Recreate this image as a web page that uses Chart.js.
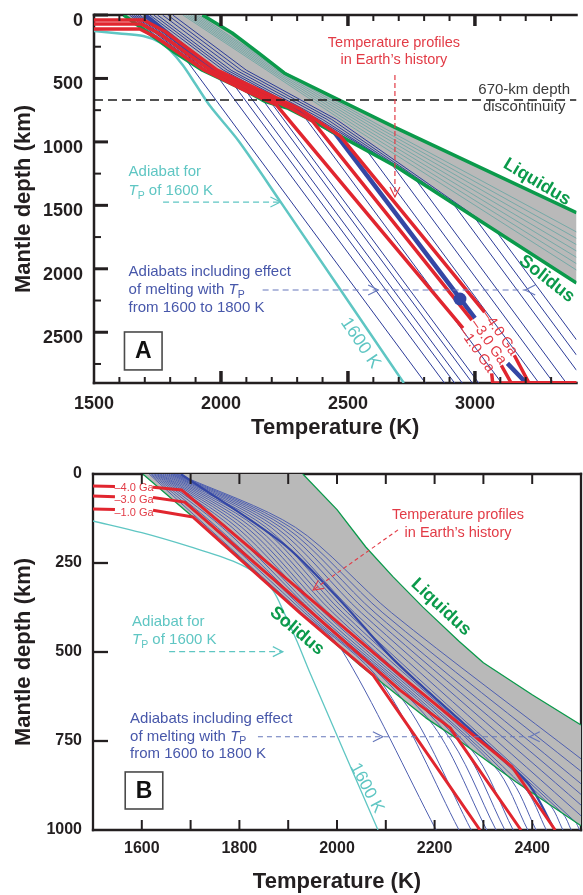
<!DOCTYPE html>
<html>
<head>
<meta charset="utf-8">
<title>Mantle temperature profiles</title>
<script src="https://cdn.jsdelivr.net/npm/chart.js@4.4.1/dist/chart.umd.min.js"></script>
<style>
  html, body { margin:0; padding:0; background:#ffffff; width:583px; height:895px; overflow:hidden; }
  canvas { position:absolute; left:0; display:block; }
</style>
</head>
<body>
<canvas id="cA" width="583" height="445" style="top:0;width:583px;height:445px"></canvas>
<canvas id="cB" width="583" height="450" style="top:445px;width:583px;height:450px"></canvas>
<script>
// ================= PANEL A data (temperature K, depth km) =================
const xTicksA = [1500, 2000, 2500, 3000];
const yTicksA = [0, 500, 1000, 1500, 2000, 2500];
const xMajorTickA = [2000, 2500, 3000];
const xMinorTickA = [1600, 1700, 1800, 1900, 2100, 2200, 2300, 2400, 2600, 2700, 2800, 2900, 3100, 3200, 3300];
const yMajorTickA = [0, 500, 1000, 1500, 2000, 2500];
const yMinorTickA = [250, 750, 1250, 1750, 2250, 2750];

const liquidusA = [[1927,0],[2044,142],[2149,300],[2250,459],[2689,890],[3400,1558]];
const solidusA = [[1617,0],[1700,120],[1811,285],[1927,435],[2094,593],[2172,680],[2265,736],[2350,823],[2689,1194],[3400,2112]];
const adiabat1600A = [[1500,127],[1600,145],[1694,166],[1760,215],[1799,277],[1850,396],[1900,546],[1958,720],[2071,997],[2234,1471],[2720,2900]];
const discontinuityDepth = 670;

const meltAdiabatsA = [
  [[1640,0],[1862,351],[2805,2900]],
  [[1648,0],[1934,435],[1990,495],[2880,2900]],
  [[1656,0],[1942,435],[2052,553],[2920,2900]],
  [[1664,0],[1950,435],[2098,598],[2950,2900]],
  [[1672,0],[1958,435],[2166,673],[2990,2900]],
  [[1680,0],[1966,435],[2200,697],[3015,2900]],
  [[1695,0],[1985,435],[2328,801],[3105,2900]],
  [[1720,0],[2010,435],[2370,823],[2574,1068],[3252,2900]],
  [[1735,0],[2025,435],[2385,823],[2672,1175],[3310,2900]],
  [[1750,0],[2040,435],[2400,823],[2765,1292],[3360,2900]],
  [[1770,0],[2060,435],[2418,823],[2913,1483],[3400,2800]],
  [[1790,0],[2080,435],[2436,823],[2997,1592],[3400,2680]],
  [[1810,0],[2100,435],[2454,823],[3083,1702],[3400,2560]]
];
const bandAdiabatsA = [
  [[1850,0],[2180,435],[2530,900],[3400,2010]],
  [[1860,0],[2190,435],[2550,900],[3400,1960]],
  [[1870,0],[2200,435],[2570,900],[3400,1910]],
  [[1880,0],[2210,435],[2590,900],[3400,1860]],
  [[1890,0],[2220,435],[2610,900],[3400,1810]],
  [[1900,0],[2230,435],[2630,900],[3400,1760]],
  [[1910,0],[2238,435],[2650,900],[3400,1710]]
];
const presentAdiabatA = [[1700,0],[1972,435],[2140,600],[2295,740],[2449,931],[2767,1772],[3000,2389],null,[3128,2745],[3202,2900]];
const profileA_4Ga = [[1500,40],[1695,40],[1780,130],[1985,435],[2160,600],[2310,740],[2469,953],[2805,1772],[3038,2341],null,[3155,2681],[3213,2900],[3400,2900]];
const profileA_3Ga = [[1500,70],[1685,70],[1760,150],[1960,435],[2130,600],[2280,740],[2359,833],[2735,1772],[2988,2405],null,[3104,2761],[3143,2900],[3400,2900]];
const profileA_1Ga = [[1500,110],[1680,110],[1740,170],[1935,435],[2100,600],[2217,707],[2662,1772],[2953,2468],null,[3066,2824],[3070,2900],[3400,2900]];
const dotA = [[2941,2238]];

// ================= PANEL B data =================
const xTicksB = [1600, 1800, 2000, 2200, 2400];
const yTicksB = [0, 250, 500, 750, 1000];
const xTickMarksB = [1600, 1700, 1800, 1900, 2000, 2100, 2200, 2300, 2400];
const yTickMarksB = [250, 500, 750];

const liquidusB = [[1930,0],[2000,100],[2059,205],[2115,289],[2176,374],[2250,470],[2300,530],[2400,620],[2500,705]];
const solidusB = [[1602,0],[1700,115],[1800,235],[1924,390],[2047,537],[2182,685],[2244,742],[2367,865],[2500,988]];
const adiabat1600B = [[1500,132],[1600,165],[1700,205],[1787,245],[1840,285],[1870,330],[1890,385],[1918,470],[1945,560],[2084,1000]];
const meltAdiabatsB = [
  [[1615,0],[1735,150],[1928,390],[2008,490],[2203,1000]],
  [[1618,0],[1745,150],[1934,390],[2091,585],[2250,1000]],
  [[1621,0],[1755,150],[1940,390],[2134,633],[2275,1000]],
  [[1624,0],[1765,150],[1946,390],[2189,691],[2307,1000]],
  [[1627,0],[1775,150],[1952,390],[2218,718],[2326,1000]],
  [[1630,0],[1785,150],[1958,390],[2246,744],[2344,1000]],
  [[1633,0],[1795,150],[1966,390],[2274,772],[2361,1000]],
  [[1636,0],[1805,150],[1974,390],[2322,820],[2391,1000]],
  [[1639,0],[1815,150],[1982,390],[2350,848],[2408,1000]],
  [[1643,0],[1825,150],[1992,390],[2383,880],[2429,1000]],
  [[1647,0],[1835,150],[2002,390],[2435,928],[2463,1000]],
  [[1651,0],[1845,150],[2012,390],[2462,953],[2480,1000]],
  [[1655,0],[1855,150],[2022,390],[2488,977],[2497,1000]],
  [[1659,0],[1865,150],[2036,390],[2500,960]],
  [[1662,0],[1875,150],[2050,390],[2500,930]],
  [[1665,0],[1885,150],[2064,390],[2500,900]],
  [[1668,0],[1895,150],[2078,390],[2500,870]],
  [[1671,0],[1905,150],[2094,390],[2500,835]],
  [[1674,0],[1915,150],[2112,390],[2500,800]]
];
const presentAdiabatB = [[1680,0],[1889,195],[2010,360],[2115,520],[2299,750],[2392,870],[2446,1000]];
const profileB_4Ga = [[1500,34],[1545,35],null,[1623,37],[1682,45],[1924,326],[2129,565],[2359,823],[2447,1000]];
const profileB_3Ga = [[1500,62],[1545,64],null,[1623,66],[1688,79],[1924,360],[2129,607],[2232,713],[2252,753],[2377,1000]];
const profileB_1Ga = [[1500,98],[1545,100],null,[1623,102],[1705,121],[1924,390],[2074,565],[2293,1000]];

// ================= styles =================
const F = "'Liberation Sans', Arial, Helvetica, sans-serif";
const INK = '#231f20', RED = '#e1262f', RED_T = '#e23b46', GREEN = '#0b9a4b', CYAN = '#5fc6c3';
const BLUE_A = '#2c3b98', BLUE_B = '#4e5fb0', BLUE_THICK = '#3447a5', TEAL = '#6ea7a5', GRAY = '#b9b9b9';
const BLUE_T = '#4757aa', BLUE_DASH = '#6677bb';

function ds(points, color, width, order, extra) {
  let prevX = 0;
  const data = points.map(p => {
    if (p) { prevX = p[0]; return {x: p[0], y: p[1]}; }
    return {x: prevX, y: null};
  });
  return Object.assign({
    data, borderColor: color, backgroundColor: color, borderWidth: width,
    pointRadius: 0, pointHoverRadius: 0, fill: false, tension: 0, order,
    spanGaps: false, borderJoinStyle: 'round', borderCapStyle: 'butt'
  }, extra || {});
}

function fontStr(seg, size, bold) {
  const sz = seg.sub ? size * 0.7 : size;
  return (seg.it ? 'italic ' : '') + (bold ? 'bold ' : '') + sz + 'px ' + F;
}

function annotationPlugin(list) {
  return {
    id: 'annotations',
    afterDatasetsDraw(chart) {
      const ctx = chart.ctx, xs = chart.scales.x, ys = chart.scales.y;
      const P = (a) => [xs.getPixelForValue(a[0]), ys.getPixelForValue(a[1])];
      const head = (px, py, ang, color, w) => {
        const L = 10, H = 5;
        const bx = px - L * Math.cos(ang), by = py - L * Math.sin(ang);
        ctx.save();
        ctx.setLineDash([]);
        ctx.strokeStyle = color; ctx.lineWidth = w || 1.2;
        ctx.beginPath();
        ctx.moveTo(bx - H * Math.sin(ang), by + H * Math.cos(ang));
        ctx.lineTo(px, py);
        ctx.lineTo(bx + H * Math.sin(ang), by - H * Math.cos(ang));
        ctx.stroke();
        ctx.restore();
      };
      ctx.save();
      for (const a of list) {
        if (a.k === 'text') {
          const [px, py] = P(a.at);
          const segs = a.segs || [{t: a.t}];
          ctx.save();
          ctx.translate(px, py);
          if (a.rot) ctx.rotate(a.rot * Math.PI / 180);
          const widths = segs.map(s => { ctx.font = fontStr(s, a.size, a.bold); return ctx.measureText(s.t).width; });
          const total = widths.reduce((u, v) => u + v, 0);
          let cx = a.align === 'left' ? 0 : a.align === 'right' ? -total : -total / 2;
          ctx.textBaseline = 'middle'; ctx.textAlign = 'left'; ctx.fillStyle = a.color;
          segs.forEach((s, i) => {
            ctx.font = fontStr(s, a.size, a.bold);
            ctx.fillText(s.t, cx, s.sub ? a.size * 0.32 : 0);
            cx += widths[i];
          });
          ctx.restore();
        } else if (a.k === 'dash') {
          const [x1, y1] = P(a.from), [x2, y2] = P(a.to);
          ctx.save();
          ctx.strokeStyle = a.color; ctx.lineWidth = a.w || 1.2;
          ctx.setLineDash(a.dash || [6, 4]);
          ctx.beginPath(); ctx.moveTo(x1, y1); ctx.lineTo(x2, y2); ctx.stroke();
          ctx.restore();
          if (a.head) head(x2, y2, Math.atan2(y2 - y1, x2 - x1), a.color, a.w);
        } else if (a.k === 'head') {
          const [px, py] = P(a.at);
          head(px, py, a.ang, a.color, a.w);
        } else if (a.k === 'box') {
          const [x1, y1] = P(a.from), [x2, y2] = P(a.to);
          ctx.save();
          ctx.fillStyle = '#ffffff'; ctx.fillRect(x1, y1, x2 - x1, y2 - y1);
          ctx.strokeStyle = '#4a4a4a'; ctx.lineWidth = 1.6; ctx.setLineDash([]);
          ctx.strokeRect(x1, y1, x2 - x1, y2 - y1);
          ctx.fillStyle = '#111'; ctx.font = 'bold ' + a.size + 'px ' + F;
          ctx.textAlign = 'center'; ctx.textBaseline = 'middle';
          ctx.fillText(a.t, (x1 + x2) / 2, (y1 + y2) / 2 + 1);
          ctx.restore();
        }
      }
      ctx.restore();
    }
  };
}

function framePlugin(spec) {
  const line = (ctx, x1, y1, x2, y2, w) => { ctx.lineWidth = w; ctx.beginPath(); ctx.moveTo(x1, y1); ctx.lineTo(x2, y2); ctx.stroke(); };
  return {
    id: 'frame',
    beforeDatasetsDraw(chart) {
      const {ctx, chartArea: ca} = chart;
      ctx.save(); ctx.strokeStyle = INK; ctx.lineCap = 'square';
      const w = spec.spineW;
      if (spec.sides.includes('left')) line(ctx, ca.left, ca.top, ca.left, ca.bottom, w);
      if (spec.sides.includes('bottom')) line(ctx, ca.left, ca.bottom, ca.right, ca.bottom, w);
      if (spec.sides.includes('top')) line(ctx, ca.left, ca.top, ca.right, ca.top, w);
      if (spec.sides.includes('right')) line(ctx, ca.right, ca.top, ca.right, ca.bottom, w);
      ctx.restore();
    },
    afterDatasetsDraw(chart) {
      const {ctx, chartArea: ca, scales: {x, y}} = chart;
      ctx.save(); ctx.strokeStyle = INK; ctx.lineCap = 'butt';
      spec.left.forEach(([vals, len, w]) => vals.forEach(v => { const py = y.getPixelForValue(v); line(ctx, ca.left, py, ca.left + len, py, w); }));
      spec.bottom.forEach(([vals, len, w]) => vals.forEach(v => { const px = x.getPixelForValue(v); line(ctx, px, ca.bottom, px, ca.bottom - len, w); }));
      spec.top.forEach(([vals, len, w]) => vals.forEach(v => { const px = x.getPixelForValue(v); line(ctx, px, ca.top, px, ca.top + len, w); }));
      ctx.restore();
    }
  };
}

function scales(o) {
  return {
    x: {
      type: 'linear', min: o.xmin, max: o.xmax,
      grid: {display: false, drawTicks: false}, border: {display: false},
      afterBuildTicks: s => { s.ticks = o.xTicks.map(v => ({value: v})); },
      afterFit: s => { s.height = o.xH; s.paddingLeft = 0; s.paddingRight = 0; },
      ticks: {autoSkip: false, maxRotation: 0, padding: o.xPad, color: INK,
              font: {family: F, size: o.tickSize, weight: 'bold'}, callback: v => String(v)},
      title: {display: true, text: 'Temperature (K)', color: INK,
              font: {family: F, size: 22, weight: 'bold', lineHeight: 1.2}, padding: {top: 0, bottom: o.xTitlePad}}
    },
    y: {
      type: 'linear', min: o.ymin, max: o.ymax, reverse: true,
      grid: {display: false, drawTicks: false}, border: {display: false},
      afterBuildTicks: s => { s.ticks = o.yTicks.map(v => ({value: v})); },
      afterFit: s => { s.width = o.yW; s.paddingTop = 0; s.paddingBottom = 0; },
      ticks: {autoSkip: false, padding: 11, labelOffset: o.yLabelOffset, color: INK,
              font: {family: F, size: o.tickSize, weight: 'bold'}, callback: v => String(v)},
      title: {display: true, text: 'Mantle depth (km)', color: INK,
              font: {family: F, size: 22, weight: 'bold', lineHeight: 1.2}, padding: {top: 11, bottom: 0}}
    }
  };
}

// ================= Chart A =================
const dsA = [];
dsA.push(ds(liquidusA.concat(solidusA.slice().reverse()), GRAY, 0, 20, {fill: 'shape', backgroundColor: GRAY, borderColor: 'rgba(0,0,0,0)'}));
bandAdiabatsA.forEach(l => dsA.push(ds(l, TEAL, 0.9, 9)));
meltAdiabatsA.forEach(l => dsA.push(ds(l, BLUE_A, 1, 8)));
dsA.push(ds(adiabat1600A, CYAN, 2.5, 7, {tension: 0.3}));
dsA.push(ds(presentAdiabatA, BLUE_THICK, 4.5, 6));
dsA.push(ds(solidusA, GREEN, 3.5, 5));
dsA.push(ds(liquidusA, GREEN, 3.5, 5));
[profileA_1Ga, profileA_3Ga, profileA_4Ga].forEach(l => dsA.push(ds(l, RED, 3.5, 4)));
dsA.push({data: dotA.map(p => ({x: p[0], y: p[1]})), showLine: false, pointRadius: 6.5, pointHoverRadius: 6.5,
          pointBackgroundColor: BLUE_THICK, pointBorderWidth: 0, order: 3});
dsA.push(ds([[1500, discontinuityDepth], [3400, discontinuityDepth]], '#1a1a1a', 1.5, 2, {borderDash: [9, 5]}));

const annA = [
  {k:'text', at:[2681,221], t:'Temperature profiles', size:14.5, color:RED_T},
  {k:'text', at:[2681,355], t:'in Earth\u2019s history', size:14.5, color:RED_T},
  {k:'dash', from:[2685,473], to:[2685,1434], color:RED_T, w:1.2, dash:[5,3], head:true},
  {k:'text', at:[3194,591], t:'670-km depth', size:15, color:'#3a3a3a'},
  {k:'text', at:[3194,725], t:'discontinuity', size:15, color:'#3a3a3a'},
  {k:'text', at:[3244,1316], t:'Liquidus', size:18, bold:true, color:GREEN, rot:31},
  {k:'text', at:[3283,2080], t:'Solidus', size:18, bold:true, color:GREEN, rot:38},
  {k:'text', at:[1636,1237], t:'Adiabat for', size:15, color:CYAN, align:'left'},
  {k:'text', at:[1636,1387], segs:[{t:'T', it:true},{t:'P', sub:true},{t:' of 1600 K'}], size:15, color:CYAN, align:'left'},
  {k:'dash', from:[1772,1474], to:[2234,1474], color:CYAN, w:1.2, dash:[6,4], head:true},
  {k:'text', at:[1636,2025], t:'Adiabats including effect', size:15, color:BLUE_T, align:'left'},
  {k:'text', at:[1636,2167], segs:[{t:'of melting with '},{t:'T', it:true},{t:'P', sub:true}], size:15, color:BLUE_T, align:'left'},
  {k:'text', at:[1636,2309], t:'from 1600 to 1800 K', size:15, color:BLUE_T, align:'left'},
  {k:'dash', from:[2164,2167], to:[3198,2167], color:BLUE_DASH, w:1.2, dash:[6,4]},
  {k:'head', at:[2619,2167], ang:0, color:BLUE_DASH},
  {k:'head', at:[3198,2167], ang:Math.PI, color:BLUE_DASH},
  {k:'text', at:[2549,2585], t:'1600 K', size:18, color:CYAN, rot:56},
  {k:'text', at:[3097,2506], t:'\u20134.0 Ga', size:14.5, color:RED_T, rot:55},
  {k:'text', at:[3054,2577], t:'\u20133.0 Ga', size:14.5, color:RED_T, rot:55},
  {k:'text', at:[3007,2640], t:'\u20131.0 Ga', size:14.5, color:RED_T, rot:55},
  {k:'box', from:[1620,2498], to:[1768,2797], t:'A', size:23}
];

new Chart(document.getElementById('cA'), {
  type: 'line',
  data: {datasets: dsA},
  options: {
    responsive: false, animation: false, events: [],
    layout: {padding: {top: 15, right: 0, left: 0, bottom: 0}},
    plugins: {legend: {display: false}, tooltip: {enabled: false}},
    scales: scales({xmin:1500, xmax:3400, ymin:0, ymax:2900, xTicks:xTicksA, yTicks:yTicksA,
                    xH:62, yW:94, xPad:10, xTitlePad:4, tickSize:18, yLabelOffset:6})
  },
  plugins: [
    annotationPlugin(annA),
    framePlugin({spineW: 2.5, sides: ['left','bottom','top'],
      left: [[yMajorTickA, 14, 3], [yMinorTickA, 7, 2]],
      bottom: [[xMajorTickA, 12, 3.5], [xMinorTickA, 6, 2]],
      top: [[xMajorTickA, 11, 3.5], [xMinorTickA, 6, 2]]})
  ]
});

// ================= Chart B =================
const dsB = [];
dsB.push(ds(liquidusB.concat(solidusB.slice().reverse()), GRAY, 0, 20, {fill: 'shape', backgroundColor: GRAY, borderColor: 'rgba(0,0,0,0)'}));
meltAdiabatsB.forEach(l => dsB.push(ds(l, BLUE_B, 1, 8, {tension: 0.3})));
dsB.push(ds(adiabat1600B, CYAN, 1.3, 7, {tension: 0.3}));
dsB.push(ds(presentAdiabatB, BLUE_THICK, 2.2, 6, {tension: 0.3}));
dsB.push(ds(solidusB, GREEN, 1.3, 5));
dsB.push(ds(liquidusB, GREEN, 1.3, 5));
[profileB_1Ga, profileB_3Ga, profileB_4Ga].forEach(l => dsB.push(ds(l, RED, 3, 4)));

const annB = [
  {k:'text', at:[2248,115], t:'Temperature profiles', size:14.5, color:RED_T},
  {k:'text', at:[2248,166], t:'in Earth\u2019s history', size:14.5, color:RED_T},
  {k:'dash', from:[2125,157], to:[1951,326], color:RED_T, w:1.1, dash:[4,3], head:true},
  {k:'text', at:[2213,374], t:'Liquidus', size:18, bold:true, color:GREEN, rot:43},
  {k:'text', at:[1918,441], t:'Solidus', size:18, bold:true, color:GREEN, rot:40},
  {k:'text', at:[1580,416], t:'Adiabat for', size:15, color:CYAN, align:'left'},
  {k:'text', at:[1580,466], segs:[{t:'T', it:true},{t:'P', sub:true},{t:' of 1600 K'}], size:15, color:CYAN, align:'left'},
  {k:'dash', from:[1656,499], to:[1889,499], color:CYAN, w:1.2, dash:[6,4], head:true},
  {k:'text', at:[1576,688], t:'Adiabats including effect', size:15, color:BLUE_T, align:'left'},
  {k:'text', at:[1576,738], segs:[{t:'of melting with '},{t:'T', it:true},{t:'P', sub:true}], size:15, color:BLUE_T, align:'left'},
  {k:'text', at:[1576,787], t:'from 1600 to 1800 K', size:15, color:BLUE_T, align:'left'},
  {k:'dash', from:[1838,738], to:[2395,738], color:BLUE_DASH, w:1.2, dash:[5,4]},
  {k:'head', at:[2094,738], ang:0, color:BLUE_DASH},
  {k:'head', at:[2395,738], ang:Math.PI, color:BLUE_DASH},
  {k:'text', at:[2061,882], t:'1600 K', size:17, color:CYAN, rot:62},
  {k:'text', at:[1584,39], t:'\u20134.0 Ga', size:11, color:RED_T},
  {k:'text', at:[1584,73], t:'\u20133.0 Ga', size:11, color:RED_T},
  {k:'text', at:[1584,110], t:'\u20131.0 Ga', size:11, color:RED_T},
  {k:'box', from:[1566,837], to:[1643,941], t:'B', size:23}
];

new Chart(document.getElementById('cB'), {
  type: 'line',
  data: {datasets: dsB},
  options: {
    responsive: false, animation: false, events: [],
    layout: {padding: {top: 29, right: 2, left: 0, bottom: 0}},
    plugins: {legend: {display: false}, tooltip: {enabled: false}},
    scales: scales({xmin:1500, xmax:2500, ymin:0, ymax:1000, xTicks:xTicksB, yTicks:yTicksB,
                    xH:65, yW:93, xPad:9, xTitlePad:0, tickSize:16, yLabelOffset:0})
  },
  plugins: [
    annotationPlugin(annB),
    framePlugin({spineW: 2.3, sides: ['left','bottom','top','right'],
      left: [[yTickMarksB, 15, 2.3]],
      bottom: [[xTickMarksB, 10, 2]],
      top: [[xTickMarksB, 10, 2]]})
  ]
});
</script>
</body>
</html>
